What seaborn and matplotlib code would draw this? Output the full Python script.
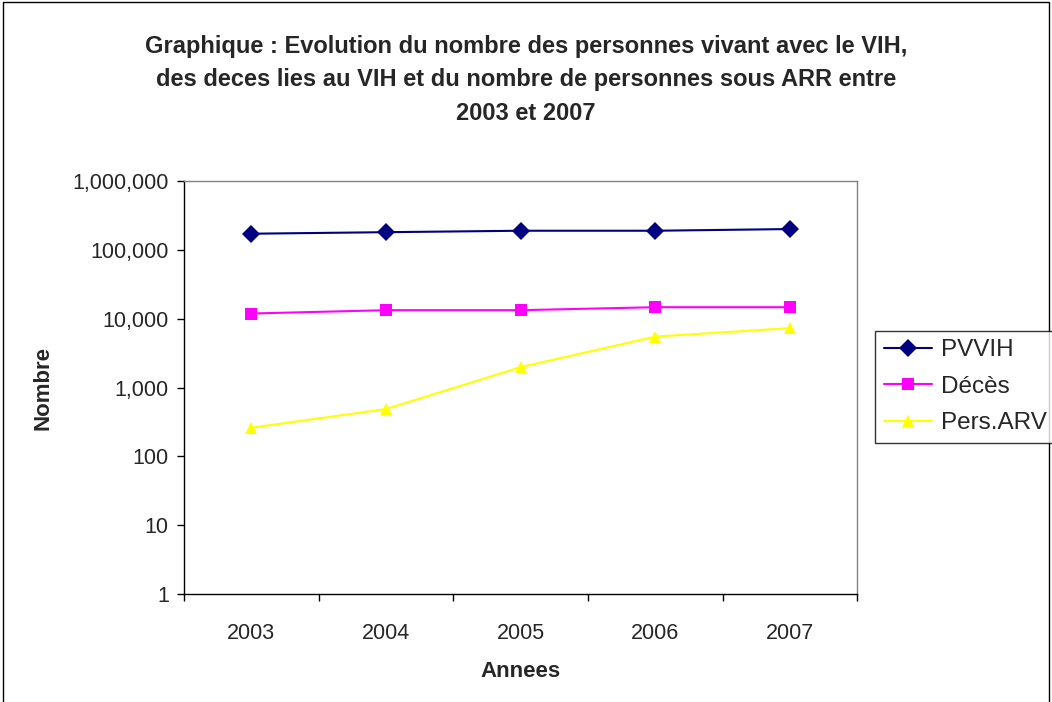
import matplotlib
matplotlib.use("Agg")
import matplotlib.pyplot as plt
import numpy as np
import pandas as pd
import seaborn as sns
from matplotlib.patches import Rectangle
from matplotlib.ticker import FixedLocator, FuncFormatter, NullFormatter

years = ["2003", "2004", "2005", "2006", "2007"]
pvvih = [172000, 181000, 190000, 190000, 201000]
deces = [11900, 13300, 13300, 14700, 14700]
pers_arv = [260, 487, 1980, 5500, 7300]

series_names = ["PVVIH", "Décès", "Pers.ARV"]
colors = ["#000080", "#FF00FF", "#FFFF00"]
markers = ["D", "s", "^"]

sns.set_theme(style="white")
plt.rcParams["font.family"] = ["Liberation Sans", "DejaVu Sans"]

df = pd.DataFrame(
    {
        "pos": list(range(len(years))) * 3,
        "value": pvvih + deces + pers_arv,
        "serie": [s for s in series_names for _ in years],
    }
)

fig = plt.figure(figsize=(10.52, 7.02), dpi=100)
ax = fig.add_axes([0.175, 0.154, 0.64, 0.588])

sns.lineplot(
    data=df, x="pos", y="value", hue="serie", style="serie",
    hue_order=series_names, style_order=series_names,
    palette=colors, markers=markers, dashes=False,
    markersize=9, markeredgewidth=0, linewidth=1.5, ax=ax, legend=False,
)

ax.set_yscale("log")
ax.set_ylim(1, 1e6)
ax.yaxis.set_major_formatter(FuncFormatter(lambda v, p: f"{int(round(v)):,}"))
ax.yaxis.set_minor_formatter(NullFormatter())
ax.tick_params(axis="y", which="minor", left=False)

ax.set_xlim(-0.5, len(years) - 0.5)
ax.xaxis.set_major_locator(FixedLocator(np.arange(-0.5, len(years), 1.0)))
ax.xaxis.set_major_formatter(NullFormatter())
ax.xaxis.set_minor_locator(FixedLocator(np.arange(len(years))))
ax.set_xticklabels(years, minor=True)
ax.tick_params(axis="x", which="minor", length=0, pad=21, labelsize=15.5)
ax.tick_params(axis="both", which="major", direction="out", length=5, width=1,
               color="black", labelsize=15.5, bottom=True, left=True)
ax.tick_params(axis="y", which="major", pad=6)

for side in ["top", "right"]:
    ax.spines[side].set_color("#808080")
    ax.spines[side].set_linewidth(1)
for side in ["left", "bottom"]:
    ax.spines[side].set_color("black")
    ax.spines[side].set_linewidth(1)

ax.set_xlabel("Annees", fontsize=16, fontweight="bold", labelpad=12)
ax.set_ylabel("Nombre", fontsize=16, fontweight="bold", labelpad=14)

fig.suptitle(
    "Graphique : Evolution du nombre des personnes vivant avec le VIH,\n"
    "des deces lies au VIH et du nombre de personnes sous ARR entre\n"
    "2003 et 2007",
    x=0.5, y=0.95, fontsize=17, fontweight="bold", linespacing=1.57,
)

handles = [
    plt.Line2D([], [], color=c, marker=m, markersize=9, markeredgewidth=0, linewidth=1.5)
    for c, m in zip(colors, markers)
]
leg = fig.legend(
    handles, series_names, loc="upper left", bbox_to_anchor=(0.832, 0.5285),
    fontsize=17.5, frameon=True, fancybox=False, edgecolor="black",
    handlelength=2.0, handletextpad=0.37, borderpad=0.34, labelspacing=0.6,
    borderaxespad=0,
)
leg.get_frame().set_linewidth(1)

fig.patches.append(Rectangle((0.003, -0.1), 0.994, 1.097, transform=fig.transFigure,
                             fill=False, edgecolor="black", linewidth=1))

fig.savefig("out.png", dpi=100)
